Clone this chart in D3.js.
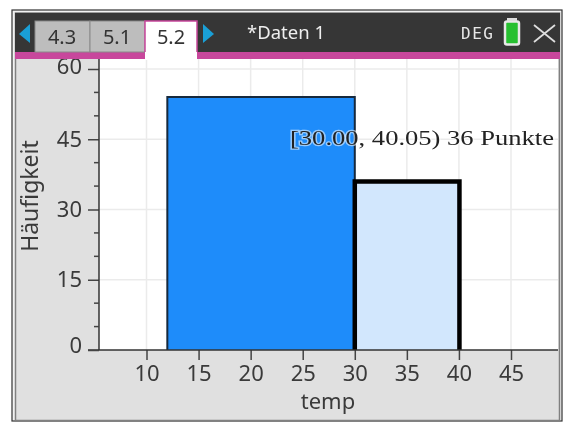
<!DOCTYPE html>
<html><head><meta charset="utf-8">
<script src="https://cdnjs.cloudflare.com/ajax/libs/d3/7.8.5/d3.min.js"></script>
<style>html,body{margin:0;padding:0;background:#fff}svg{display:block;filter:blur(0.6px)}text{font-family:"Noto Sans",Arial,sans-serif}</style>
</head><body><svg id="c" width="568" height="422"></svg>
<script>
const binStarts = [12, 30];
const binEnds = [30, 40.05];
const counts = [54, 36];
const xTicks = [10, 15, 20, 25, 30, 35, 40, 45];
const yLabelTicks = [0, 15, 30, 45, 60];
const yMinorTicks = [5, 10, 20, 25, 35, 40, 50, 55];
const tabs = ["4.3", "5.1"];
const activeTab = "5.2";
const docTitle = "*Daten 1";
const xTitle = "temp";
const yTitle = "Häufigkeit";
const tooltip = "[30.00, 40.05) 36 Punkte";

const svg = d3.select("#c");
const x = d3.scaleLinear().domain([10, 45]).range([146.5, 511]);
const y = d3.scaleLinear().domain([0, 60]).range([350, 69]);
const L = 99, R = 558, T = 58, B = 350;
const pink = "#c8479c", ink = "#3a3a3a";

// frame
svg.append("rect").attr("x",12).attr("y",10).attr("width",550).attr("height",411).attr("fill","#f2f2f2").attr("stroke","#333").attr("stroke-width",1.2);
svg.append("rect").attr("x",15.5).attr("y",13).attr("width",544).attr("height",407.5).attr("fill","#e0e0e0").attr("stroke","#808080").attr("stroke-width",1.5);

// plot background and grid
svg.append("rect").attr("x",L).attr("y",T).attr("width",R-L).attr("height",B-T).attr("fill","#fff");
const grid = svg.append("g").attr("stroke","#ebebeb").attr("stroke-width",1.5);
grid.selectAll("line.v").data(xTicks).join("line").attr("class","v").attr("x1",d=>x(d)).attr("x2",d=>x(d)).attr("y1",T).attr("y2",B);
grid.selectAll("line.h").data(yLabelTicks.slice(1)).join("line").attr("class","h").attr("x1",L).attr("x2",R).attr("y1",d=>y(d)).attr("y2",d=>y(d));

// bars: fill, then an open outline (the baseline stays thin)
const bars = binStarts.map((s,i)=>({s,e:binEnds[i],c:counts[i],i}));
const outline = d => d3.line()([[x(d.s),y(0)],[x(d.s),y(d.c)],[x(d.e),y(d.c)],[x(d.e),y(0)]]);
svg.selectAll("rect.bar").data(bars).join("rect").attr("class","bar")
  .attr("x",d=>x(d.s)).attr("y",d=>y(d.c)).attr("width",d=>x(d.e)-x(d.s)).attr("height",d=>y(0)-y(d.c))
  .attr("fill",d=>d.i===0?"#1e8cfa":"#d2e7fd");
svg.selectAll("path.barline").data(bars).join("path").attr("class","barline")
  .attr("d",outline).attr("fill","none")
  .attr("stroke",d=>d.i===0?"#16293d":"#000").attr("stroke-width",d=>d.i===0?2:4.5);

// axes
const gx = svg.append("g").attr("transform",`translate(0,${B})`)
  .call(d3.axisBottom(x).tickValues(xTicks).tickSize(10).tickPadding(5));
gx.select(".domain").remove();
svg.append("line").attr("x1",88).attr("x2",R).attr("y1",B).attr("y2",B).attr("stroke","#333").attr("stroke-width",1.5);
gx.selectAll("line").attr("stroke","#444").attr("stroke-width",1.5);
gx.selectAll("text").attr("font-size",22).attr("fill",ink).attr("style","font-family:'Noto Sans'");

const gy = svg.append("g").attr("transform",`translate(${L},0)`)
  .call(d3.axisLeft(y).tickValues(yLabelTicks).tickSize(11).tickPadding(6));
gy.select(".domain").remove();
gy.selectAll("line").attr("stroke","#444").attr("stroke-width",1.5);
gy.selectAll("text").attr("font-size",22).attr("fill",ink).attr("dy",d=>d===0?"0.1em":d===60?"0.22em":"0.32em").attr("style","font-family:'Noto Sans'");
svg.append("line").attr("x1",L).attr("x2",L).attr("y1",T).attr("y2",B).attr("stroke","#333").attr("stroke-width",1.5);
svg.selectAll("line.minor").data(yMinorTicks).join("line").attr("class","minor").attr("x1",L-5).attr("x2",L).attr("y1",d=>y(d)).attr("y2",d=>y(d)).attr("stroke","#444").attr("stroke-width",1.5);

svg.append("text").attr("x",328).attr("y",409).attr("text-anchor","middle").attr("font-size",22).attr("fill",ink).text(xTitle);
svg.append("text").attr("transform","translate(38,196) rotate(-90)").attr("text-anchor","middle").attr("font-size",23).attr("fill",ink).text(yTitle);

// tooltip
svg.append("text").attr("x",290).attr("y",145).attr("font-size",22).attr("fill","#222")
  .attr("textLength",264).attr("lengthAdjust","spacingAndGlyphs")
  .attr("style","font-family:'Liberation Serif',serif;paint-order:stroke;stroke:rgba(255,255,255,.55);stroke-width:2.5px")
  .text(tooltip);

// header, drawn over the top of the plot
svg.append("rect").attr("x",15).attr("y",13).attr("width",545).attr("height",39).attr("fill","#363636");
svg.append("rect").attr("x",15).attr("y",52).attr("width",130).attr("height",7).attr("fill",pink);
svg.append("rect").attr("x",197).attr("y",52).attr("width",363).attr("height",7).attr("fill",pink);
const tabX = [35, 90];
svg.selectAll("rect.tab").data(tabs).join("rect").attr("class","tab").attr("x",(d,i)=>tabX[i]).attr("y",21).attr("width",55).attr("height",31).attr("fill","#bdbdbd").attr("stroke","#8a8a8a");
svg.selectAll("text.tab").data(tabs).join("text").attr("class","tab").attr("x",(d,i)=>tabX[i]+27).attr("y",44).attr("text-anchor","middle").attr("font-size",20).attr("fill","#333").text(d=>d);
svg.append("rect").attr("x",145).attr("y",21).attr("width",52).attr("height",39).attr("fill","#fff");
svg.append("path").attr("d",d3.line()([[145,52],[145,21],[197,21],[197,52]])).attr("fill","none").attr("stroke",pink).attr("stroke-width",1.5);
svg.append("text").attr("x",171).attr("y",44).attr("text-anchor","middle").attr("font-size",20).attr("fill","#333").text(activeTab);
svg.append("path").attr("d",d3.line()([[30,24],[30,43],[19,34]])).attr("fill","#1a9fd6");
svg.append("path").attr("d",d3.line()([[203,24],[203,43],[214,34]])).attr("fill","#1a9fd6");
svg.append("text").attr("x",247).attr("y",39).attr("font-size",18.5).attr("fill","#eee").text(docTitle);
svg.append("text").attr("x",461).attr("y",39).attr("font-size",16).attr("letter-spacing",1.5).attr("fill","#e8e8e8").attr("style","font-family:'DejaVu Sans Mono',monospace").text("DEG");
svg.append("rect").attr("x",505).attr("y",21.5).attr("width",14).attr("height",23).attr("rx",2).attr("fill","#26c030").attr("stroke","#e8e8e8").attr("stroke-width",2.5);
svg.append("rect").attr("x",507).attr("y",18).attr("width",10).attr("height",3).attr("fill","#ddd");
svg.append("path").attr("d","M534,25L555,42M555,25L534,42").attr("stroke","#ddd").attr("stroke-width",1.8).attr("fill","none");
</script></body></html>
